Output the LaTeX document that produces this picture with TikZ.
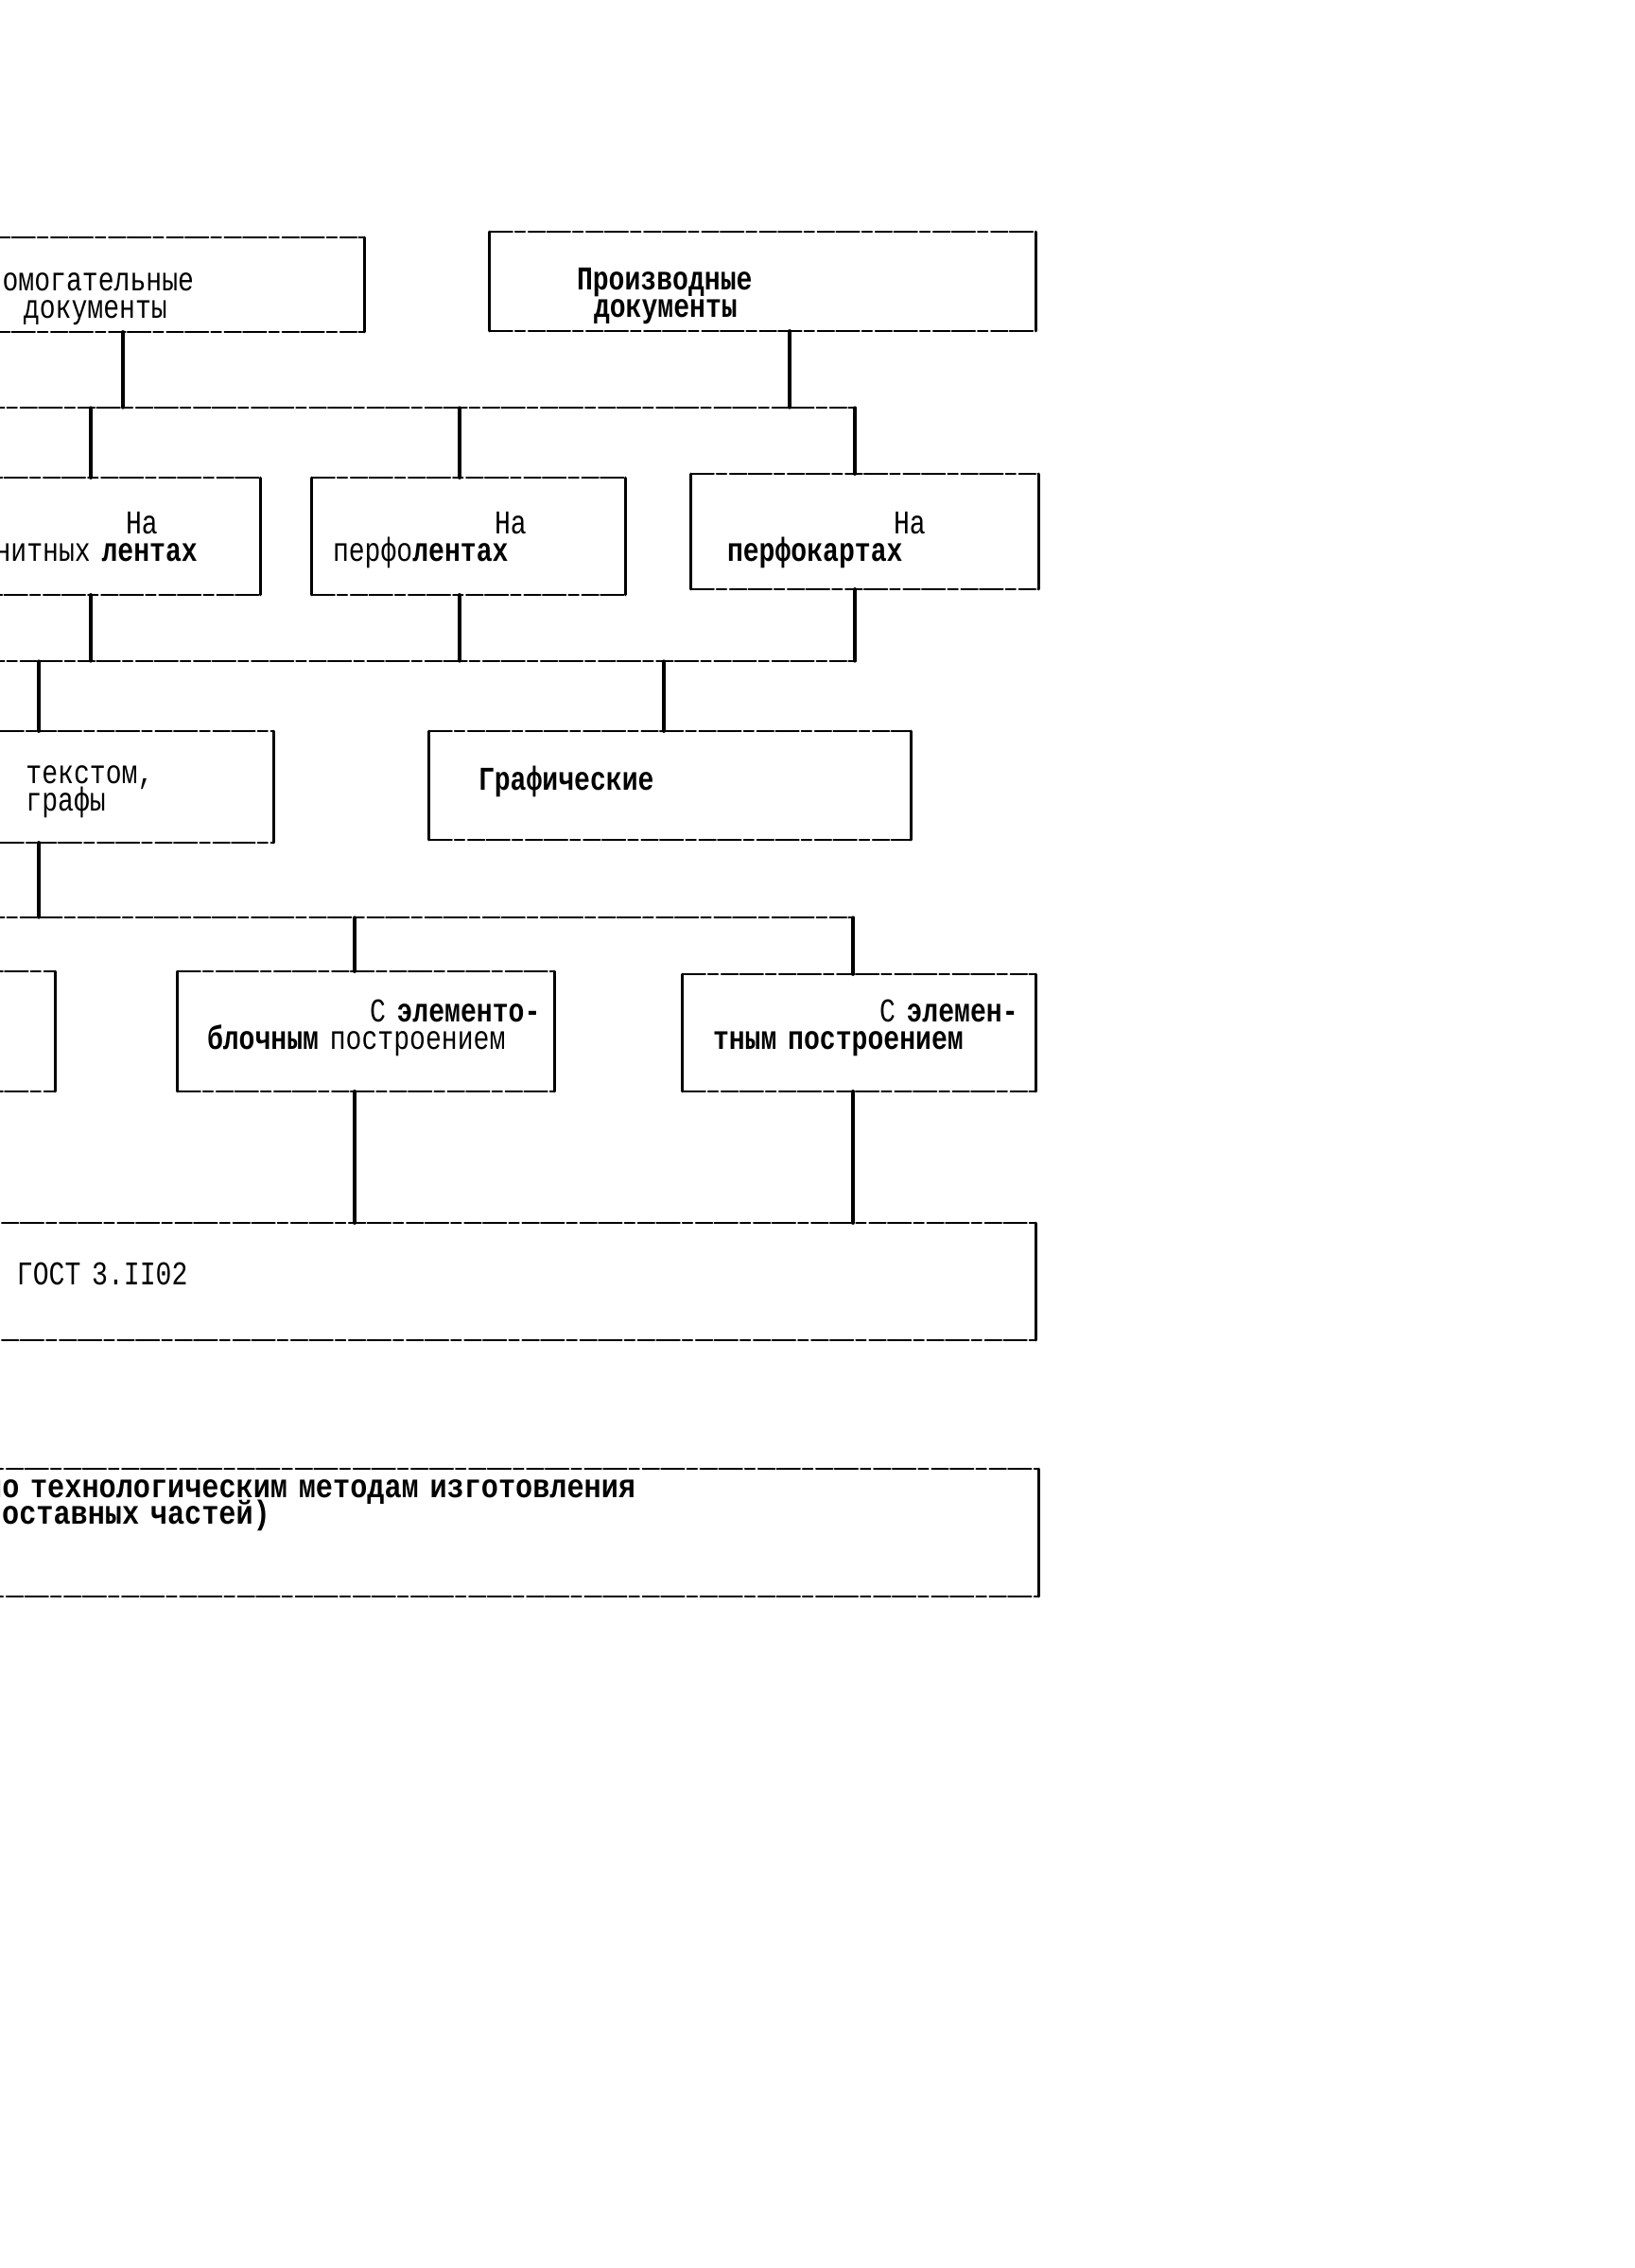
\documentclass[tikz,border=0pt]{standalone}
\usepackage{fontspec}
\newfontfamily\tw[FakeStretch=0.8]{Liberation Mono}
\newfontfamily\twwide[FakeStretch=0.86]{Liberation Mono}
\newcommand\docfont{\tw\fontsize{10}{8.2}\selectfont\lineskiplimit-100pt\relax}
\newcommand\tehnfont{\twwide\fontsize{10}{7.8}\selectfont\lineskiplimit-100pt\relax}

\tikzset{
  hline/.style={line width=0.5pt, dash pattern=on 7pt off 0.8pt on 3pt off 1pt on 5pt off 0.6pt},
  vline/.style={line width=0.9pt},
  doc/.style={inner sep=0pt, align=left, font=\docfont},
  sz/.style 2 args={text width=#1cm, minimum height=#2cm}
}
% box sides: thin broken top and bottom, full sides
\newcommand\boxedges[1]{%
  \draw[hline] (#1.north west) -- (#1.north east) (#1.south west) -- (#1.south east);
  \draw[vline] (#1.north west) -- (#1.south west) (#1.north east) -- (#1.south east);}
\newcommand\ind[1]{\hspace*{#1cm}}
\newcommand\lift[1]{\rule{0pt}{#1}}
\newcommand\sink[1]{\rule[-#1]{0pt}{#1}}

\begin{document}
\begin{tikzpicture}[line join=round, line cap=round]
  \useasboundingbox (0,0) rectangle (17.28,-23.98);
  \clip (0,0) rectangle (17.28,-23.98);
  %%% boxes
  \node[doc,sz={4.33}{0.98}] (vspom) at (1.685,-3.01) {\lift{15pt}Вспомогательные\\\ind{0.73}документы\sink{3pt}};
  \node[doc,sz={5.77}{1.03}] (proizv) at (8.065,-2.975) {\lift{16.4pt}\ind{0.92}\textbf{Производные}\\\ind{1.10}\textbf{документы}\sink{3pt}};
  \node[doc,sz={3.31}{1.22}] (magn) at (1.095,-5.67) {\lift{12pt}\ind{1.89}На\\магнитных~\textbf{лентах}\sink{5pt}};
  \node[doc,sz={3.31}{1.22}] (perfol) at (4.955,-5.67) {\lift{12pt}\ind{1.93}На\\\ind{0.22}перфо\textbf{лентах}\sink{5pt}};
  \node[doc,sz={3.67}{1.20}] (perfok) at (9.145,-5.62) {\lift{12.8pt}\ind{2.14}На\\\ind{0.38}\textbf{перфокартах}\sink{3pt}};
  \node[doc,sz={3.49}{1.16}] (tekst) at (1.145,-8.32) {\lift{11.3pt}\ind{0.875}текстом,\\\ind{0.875}графы\sink{5pt}};
  \node[doc,sz={5.09}{1.13}] (graf) at (7.085,-8.305) {\lift{10.8pt}\ind{0.52}\textbf{Графические}\sink{7.7pt}};
  \node[doc,sz={3.58}{1.25}] (prochie) at (-1.21,-10.905) {};
  \node[doc,sz={3.98}{1.25}] (elblok) at (3.87,-10.905) {\lift{10.8pt}\ind{2.03}С~\textbf{элементо-}\\\ind{0.31}\textbf{блочным}~построением\sink{8.2pt}};
  \node[doc,sz={3.73}{1.22}] (elem) at (9.085,-10.92) {\lift{10.8pt}\ind{2.08}С~\textbf{элемен-}\\\ind{0.32}\textbf{тным~построением}\sink{9.1pt}};
  \node[doc,sz={11.95}{1.22}] (gost) at (4.975,-13.55) {\lift{10.8pt}\ind{1.18}ГОСТ~3.II02\sink{8.6pt}};
  \node[doc,sz={11.32}{1.33},font=\tehnfont] (tehn) at (5.32,-16.205)
    {\lift{8.3pt}\textbf{(по~технологическим~методам~изготовления}\\\ind{0.18}\textbf{составных~частей)}\sink{21.5pt}};
  \foreach \n in {vspom,proizv,magn,perfol,perfok,tekst,graf,prochie,elblok,elem,gost,tehn}
    \boxedges{\n};
  %%% buses
  \coordinate (bus1w) at (-0.2,-4.31);
  \coordinate (bus1e) at (9.04,-4.31);
  \coordinate (bus2w) at (-0.2,-6.99);
  \coordinate (bus2e) at (9.04,-6.99);
  \coordinate (bus3w) at (-0.2,-9.70);
  \coordinate (bus3e) at (9.02,-9.70);
  \draw[hline] (bus1w) -- (bus1e) (bus2w) -- (bus2e) (bus3w) -- (bus3e);
  \foreach \x/\a/\b in {1.30/vspom.south/bus1w, 8.35/proizv.south/bus1w,
      0.96/bus1w/magn.north, 4.86/bus1w/perfol.north, 9.04/bus1w/perfok.north,
      0.96/magn.south/bus2w, 4.86/perfol.south/bus2w, 9.04/perfok.south/bus2w,
      0.41/bus2w/tekst.north, 7.02/bus2w/graf.north, 0.41/tekst.south/bus3w,
      3.75/bus3w/elblok.north, 9.02/bus3w/elem.north,
      3.75/elblok.south/gost.north, 9.02/elem.south/gost.north}
    \draw[vline] (\x,0 |- \a) -- (\x,0 |- \b);
\end{tikzpicture}
\end{document}
